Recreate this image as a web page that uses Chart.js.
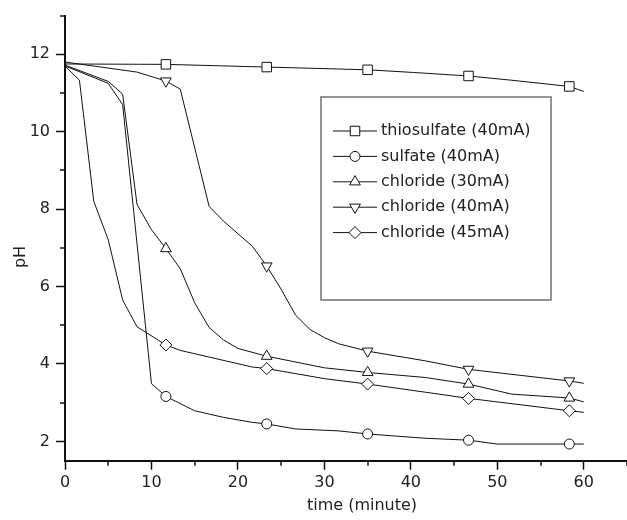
<!DOCTYPE html>
<html>
<head>
<meta charset="utf-8">
<script src="https://cdn.jsdelivr.net/npm/chart.js@4.4.1/dist/chart.umd.min.js"></script>
<style>
  html, body { margin: 0; padding: 0; background: #fff; }
  #wrap { width: 627px; height: 520px; }
</style>
</head>
<body>
<div id="wrap"><canvas id="ph-chart" width="627" height="520"></canvas></div>
<script>
// pH vs time (time in minutes)
const thioTime = [0, 11.67, 23.33, 35, 40.33, 46.67, 51.67, 58.33, 60];
const thioPH   = [11.75, 11.74, 11.67, 11.6, 11.53, 11.44, 11.33, 11.17, 11.04];

const sulfTime = [0, 5, 6.67, 10, 11.67, 15, 18.33, 21.67, 23.33, 26.67, 31.67, 35, 41.67, 46.67, 50, 58.33, 60];
const sulfPH   = [11.7, 11.25, 10.7, 3.49, 3.16, 2.79, 2.62, 2.49, 2.45, 2.32, 2.27, 2.19, 2.08, 2.03, 1.93, 1.93, 1.93];

const cl30Time = [0, 5, 6.67, 8.33, 10, 11.67, 13.33, 15, 16.67, 18.33, 20, 23.33, 30, 35, 41.67, 46.67, 51.67, 58.33, 60];
const cl30PH   = [11.72, 11.3, 10.97, 8.12, 7.47, 6.98, 6.46, 5.58, 4.94, 4.62, 4.4, 4.2, 3.9, 3.78, 3.65, 3.48, 3.22, 3.12, 3.02];

const cl40Time = [0, 8.33, 11.67, 13.33, 16.67, 18.33, 21.67, 23.33, 25, 26.67, 28.33, 30, 31.67, 35, 41.67, 46.67, 58.33, 60];
const cl40PH   = [11.8, 11.54, 11.31, 11.1, 8.07, 7.69, 7.04, 6.53, 5.93, 5.26, 4.89, 4.68, 4.52, 4.33, 4.08, 3.86, 3.56, 3.5];

const cl45Time = [0, 1.67, 3.33, 5, 6.67, 8.33, 11.67, 13.33, 21.67, 23.33, 30, 35, 41.67, 46.67, 58.33, 60];
const cl45PH   = [11.7, 11.33, 8.2, 7.21, 5.65, 4.96, 4.49, 4.35, 3.92, 3.88, 3.62, 3.48, 3.27, 3.11, 2.79, 2.75];

const markerTimes = [11.67, 23.33, 35, 46.67, 58.33];
const seriesLabels = ['thiosulfate (40mA)', 'sulfate (40mA)', 'chloride (30mA)', 'chloride (40mA)', 'chloride (45mA)'];

const xMajor = [0, 10, 20, 30, 40, 50, 60];
const xMinor = [5, 15, 25, 35, 45, 55, 65];
const yMajor = [2, 4, 6, 8, 10, 12];
const yMinor = [3, 5, 7, 9, 11, 13];

const FONT = 'DejaVu Sans';
const INK = '#111';

function makeSet(label, t, ph, style, rot, radius) {
  return {
    label: label,
    data: t.map((v, i) => ({ x: v, y: ph[i] })),
    borderColor: INK,
    borderWidth: 1,
    backgroundColor: '#fff',
    pointStyle: style,
    pointRotation: rot,
    pointRadius: ctx => (ctx.raw && markerTimes.includes(ctx.raw.x)) ? radius : 0,
    pointHoverRadius: 0,
    pointBorderWidth: 1,
    pointBorderColor: INK,
    pointBackgroundColor: '#fff',
    legendRadius: radius,
    tension: 0,
    fill: false
  };
}

// axis titles, minor ticks and the boxed legend
const frame = {
  id: 'frame',
  afterDraw(chart) {
    const ctx = chart.ctx;
    const xs = chart.scales.x, ys = chart.scales.y;
    ctx.save();
    ctx.strokeStyle = INK;
    ctx.lineWidth = 1.5;
    ctx.beginPath();
    xMinor.forEach(v => {
      const px = Math.round(xs.getPixelForValue(v));
      ctx.moveTo(px, xs.top);
      ctx.lineTo(px, xs.top + 5);
    });
    yMinor.forEach(v => {
      const py = Math.round(ys.getPixelForValue(v));
      ctx.moveTo(ys.right, py);
      ctx.lineTo(ys.right - 5, py);
    });
    ctx.stroke();

    ctx.fillStyle = '#222';
    ctx.font = '16px "' + FONT + '"';
    ctx.textAlign = 'center';
    ctx.textBaseline = 'alphabetic';
    ctx.fillText('time (minute)', 362, 510);
    ctx.save();
    ctx.translate(25, 257);
    ctx.rotate(-Math.PI / 2);
    ctx.fillText('pH', 0, 0);
    ctx.restore();

    // legend box
    ctx.fillStyle = '#fff';
    ctx.fillRect(321, 97, 230, 203);
    ctx.strokeStyle = '#707070';
    ctx.lineWidth = 1.5;
    ctx.strokeRect(321, 97, 230, 203);

    chart.data.datasets.forEach((ds, i) => {
      const yy = 131 + i * 25.4;
      ctx.strokeStyle = INK;
      ctx.lineWidth = 1;
      ctx.beginPath();
      ctx.moveTo(333, yy);
      ctx.lineTo(377, yy);
      ctx.stroke();
      ctx.fillStyle = '#fff';
      if (Chart.helpers && Chart.helpers.drawPoint) {
        Chart.helpers.drawPoint(ctx, {
          pointStyle: ds.pointStyle, rotation: ds.pointRotation || 0,
          radius: ds.legendRadius, borderWidth: 1
        }, 355, yy);
      }
      ctx.fillStyle = '#222';
      ctx.textAlign = 'left';
      ctx.textBaseline = 'middle';
      ctx.fillText(ds.label, 381, yy);
    });
    ctx.restore();
  }
};

const tickFont = { family: FONT, size: 16 };

new Chart(document.getElementById('ph-chart'), {
  type: 'line',
  data: {
    datasets: [
      makeSet(seriesLabels[0], thioTime, thioPH, 'rect', 0, 6.7),
      makeSet(seriesLabels[1], sulfTime, sulfPH, 'circle', 0, 5),
      makeSet(seriesLabels[2], cl30Time, cl30PH, 'triangle', 0, 6.2),
      makeSet(seriesLabels[3], cl40Time, cl40PH, 'triangle', 180, 6.2),
      makeSet(seriesLabels[4], cl45Time, cl45PH, 'rectRot', 0, 6)
    ]
  },
  options: {
    responsive: false,
    devicePixelRatio: 1,
    animation: false,
    layout: { padding: { top: 15, left: 0, right: 0, bottom: 0 } },
    plugins: {
      legend: { display: false },
      tooltip: { enabled: false }
    },
    scales: {
      x: {
        type: 'linear',
        min: 0,
        max: 65,
        afterBuildTicks: s => { s.ticks = xMajor.map(v => ({ value: v })); },
        afterFit: s => { s.height = 59.3; },
        grid: { display: true, drawOnChartArea: false, drawTicks: true, tickLength: 9, tickWidth: 1.5, tickColor: INK, color: INK },
        border: { display: true, color: INK, width: 2 },
        ticks: { color: '#222', font: tickFont, padding: 4, maxRotation: 0, autoSkip: false }
      },
      y: {
        type: 'linear',
        min: 1.5,
        max: 13,
        afterBuildTicks: s => { s.ticks = yMajor.map(v => ({ value: v })); },
        afterFit: s => { s.width = 65; },
        grid: { display: true, drawOnChartArea: false, drawTicks: true, tickLength: 9, tickWidth: 1.5, tickColor: INK, color: INK },
        border: { display: true, color: INK, width: 2 },
        ticks: { color: '#222', font: tickFont, padding: 6, autoSkip: false }
      }
    }
  },
  plugins: [frame]
});
</script>
</body>
</html>
